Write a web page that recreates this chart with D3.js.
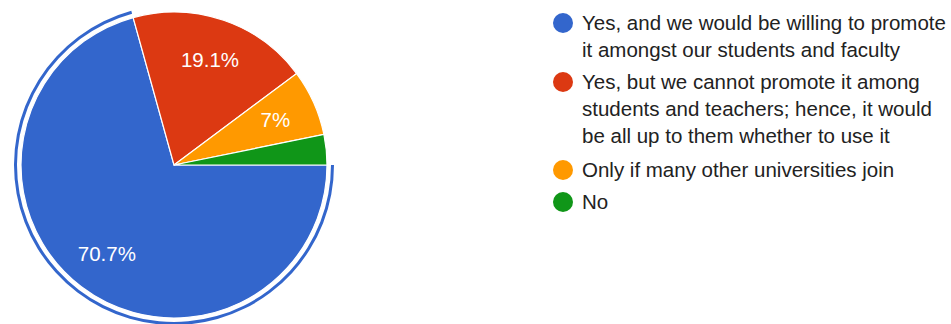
<!DOCTYPE html>
<html><head><meta charset="utf-8">
<script src="https://cdn.jsdelivr.net/npm/d3@7"></script>
<style>body{margin:0;background:#fff;}svg{display:block;}</style>
</head><body>
<svg id="c" width="951" height="324"></svg>
<script>
const categories = [
  ["Yes, and we would be willing to promote", "it amongst our students and faculty"],
  ["Yes, but we cannot promote it among", "students and teachers; hence, it would", "be all up to them whether to use it"],
  ["Only if many other universities join"],
  ["No"]
];
const values = [70.7, 19.1, 7.0, 3.2];
const labels = ["70.7%", "19.1%", "7%", ""];
const colors = ["#3366cc", "#dc3912", "#ff9900", "#109618"];

const svg = d3.select("#c");
const cx = 174, cy = 165, R = 153;
const pie = d3.pie().sort(null).startAngle(Math.PI/2).endAngle(Math.PI/2 + 2*Math.PI);
const arcs = pie(values);
const arc = d3.arc().innerRadius(0).outerRadius(R);
const labelArc = d3.arc().innerRadius(111).outerRadius(111);
const g = svg.append("g").attr("transform", `translate(${cx},${cy})`);
const FONT = "'Liberation Sans', Arial, sans-serif";

// highlight ring for first slice
g.append("path")
  .attr("d", d3.arc().innerRadius(R+4).outerRadius(R+7)(arcs[0]))
  .attr("fill", colors[0]);

g.selectAll("path.s").data(arcs).join("path").attr("class","s")
  .attr("d", arc).attr("fill", (d,i)=>colors[i])
  .attr("stroke", "#fff").attr("stroke-width", 1.2);

g.selectAll("text").data(arcs).join("text")
  .attr("transform", d => `translate(${labelArc.centroid(d)})`)
  .attr("text-anchor","middle").attr("dy","0.35em")
  .attr("font-family",FONT).attr("font-size", 20.5)
  .attr("fill","#fff").text((d,i)=>labels[i]);

// legend
const lg = svg.append("g");
const rowY = [23, 82, 170, 202];
const lineH = 27;
categories.forEach((lines, i) => {
  lg.append("circle").attr("cx", 563).attr("cy", rowY[i]).attr("r", 10).attr("fill", colors[i]);
  lines.forEach((t, j) => {
    lg.append("text").attr("x", 582).attr("y", rowY[i] + j*lineH).attr("dy","0.35em")
      .attr("font-family",FONT).attr("font-size", 20.5)
      .attr("fill","#222").text(t);
  });
});
</script>
</body></html>
